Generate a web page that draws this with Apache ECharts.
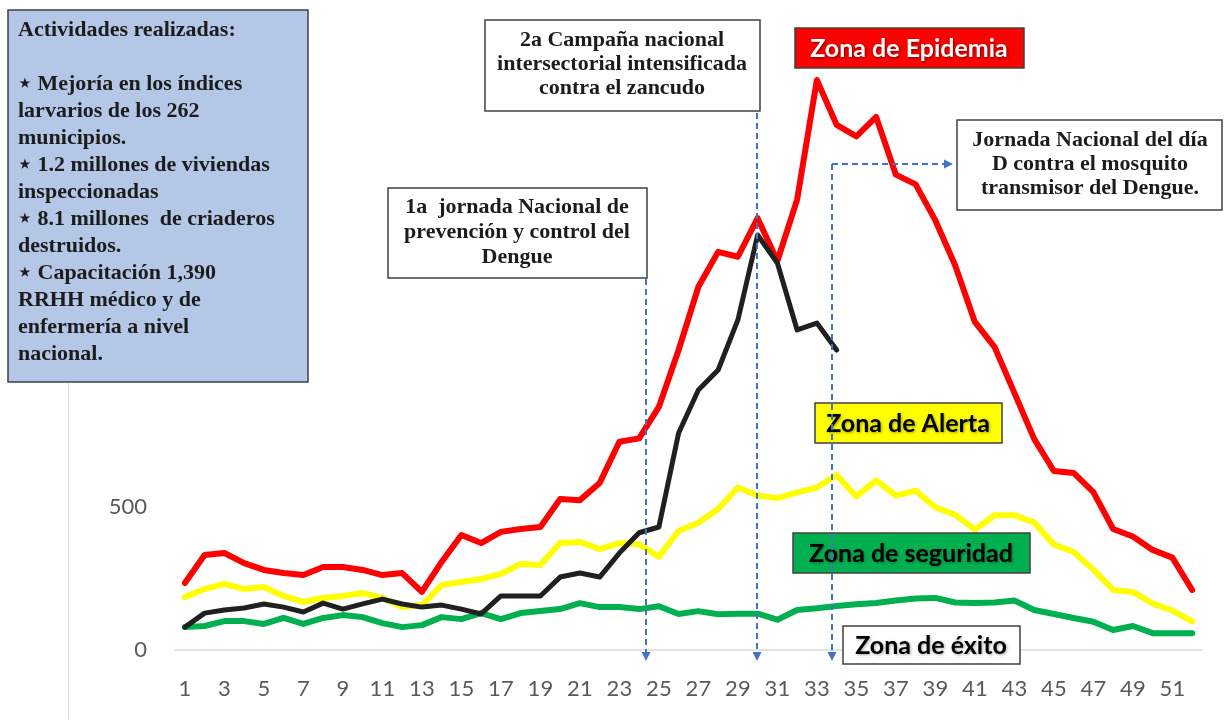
<!DOCTYPE html>
<html>
<head>
<meta charset="utf-8">
<script src="https://cdn.jsdelivr.net/npm/echarts@6/dist/echarts.min.js"></script>
<style>
html,body{margin:0;padding:0;background:#fff;}
#chart{width:1224px;height:720px;}
</style>
</head>
<body>
<div id="chart"></div>
<script>
const weeks = ['1','2','3','4','5','6','7','8','9','10','11','12','13','14','15','16','17','18','19','20','21','22','23','24','25','26','27','28','29','30','31','32','33','34','35','36','37','38','39','40','41','42','43','44','45','46','47','48','49','50','51','52'];

// Zona de Epidemia (red)
const epidemia = [234,332,339,304,280,269,262,290,290,280,262,269,203,308,402,374,413,423,430,528,524,584,728,740,850,1049,1270,1392,1375,1510,1360,1575,1993,1836,1796,1864,1662,1628,1502,1345,1147,1059,899,738,626,619,552,423,397,350,323,210];
// Zona de Alerta (yellow)
const alerta = [185,213,231,213,220,189,168,182,189,199,182,150,157,227,238,248,266,301,297,374,378,353,374,370,326,416,445,493,568,540,531,551,568,612,537,593,540,557,499,473,421,471,471,446,369,343,281,210,203,163,138,100];
// Zona de seguridad (green)
const seguridad = [80,84,101,101,91,112,91,112,122,115,94,80,87,115,108,129,108,129,136,143,164,150,150,143,153,126,136,125,127,127,106,140,146,154,160,164,173,180,182,166,164,166,173,140,126,112,99,70,84,59,59,59];
// Casos actuales (black), weeks 1-34
const actual = [80,129,140,147,161,150,133,164,143,161,178,161,150,157,143,126,189,189,189,255,269,255,339,410,430,759,909,979,1154,1451,1353,1119,1143,1049];

const yTicks = [0, 500, 1000, 1500, 2000];

const chart = echarts.init(document.getElementById('chart'));

const serif = '"Liberation Serif", "DejaVu Serif", serif';
const sans = 'Lato, "Open Sans", sans-serif';
const blue = '#4472C4';

function box(x, y, w, h, fill, stroke) {
  return { type: 'rect', z: 100, shape: { x: x, y: y, width: w, height: h },
    style: { fill: fill, stroke: stroke || '#404040', lineWidth: 1.5 } };
}
function txt(x, y, text, opts) {
  return { type: 'text', z: 101, style: Object.assign({ x: x, y: y, text: text }, opts) };
}
function zoneText(x, y, text, color, shadow) {
  return txt(x, y, text, { font: 'bold 25px ' + sans, fill: color, align: 'center', verticalAlign: 'middle',
    textShadowColor: shadow, textShadowBlur: 3, textShadowOffsetX: 1, textShadowOffsetY: 1 });
}
function dash(x1, y1, x2, y2) {
  return { type: 'line', z: 110, shape: { x1: x1, y1: y1, x2: x2, y2: y2 },
    style: { stroke: blue, lineWidth: 2, lineDash: [6, 4] } };
}
function arrowDown(x, y) {
  return { type: 'polygon', z: 110, shape: { points: [[x - 4.5, y - 9], [x + 4.5, y - 9], [x, y]] }, style: { fill: blue } };
}
function arrowRight(x, y) {
  return { type: 'polygon', z: 110, shape: { points: [[x - 9, y - 4.5], [x - 9, y + 4.5], [x, y]] }, style: { fill: blue } };
}

const activities = [
  'Actividades realizadas:',
  '',
  '\u22c6 Mejoría en los índices',
  'larvarios de los 262',
  'municipios.',
  '\u22c6 1.2 millones de viviendas',
  'inspeccionadas',
  '\u22c6 8.1 millones  de criaderos',
  'destruidos.',
  '\u22c6 Capacitación 1,390',
  'RRHH médico y de',
  'enfermería a nivel',
  'nacional.'
].join('\n');

const boxFont = 'bold 22px ' + serif;

const graphics = [
  { type: 'line', z: 1, shape: { x1: 68.5, y1: 383, x2: 68.5, y2: 720 }, style: { stroke: '#D9D9D9', lineWidth: 1 } },
  box(8, 10, 300, 372, '#B4C7E7', '#3b3f47'),
  txt(18, 17, activities, { font: 'bold 22px ' + serif, fill: '#1c1c1c', lineHeight: 27, align: 'left', verticalAlign: 'top' }),

  box(485, 20, 275, 91, '#ffffff'),
  txt(622, 28, '2a Campaña nacional\nintersectorial intensificada\ncontra el zancudo', { font: boxFont, fill: '#1c1c1c', lineHeight: 24, align: 'center', verticalAlign: 'top' }),

  box(388, 188, 259, 90, '#ffffff'),
  txt(517, 195, '1a  jornada Nacional de\nprevención y control del\nDengue', { font: boxFont, fill: '#1c1c1c', lineHeight: 25, align: 'center', verticalAlign: 'top' }),

  box(957, 120, 265, 90, '#ffffff'),
  txt(1090, 128, 'Jornada Nacional del día\nD contra el mosquito\ntransmisor del Dengue.', { font: boxFont, fill: '#1c1c1c', lineHeight: 24, align: 'center', verticalAlign: 'top' }),

  box(795, 28, 229, 40, '#FF0000'),
  zoneText(909, 49, 'Zona de Epidemia', '#ffffff', 'rgba(0,0,0,0.55)'),
  box(815, 403, 187, 40, '#FFFF00'),
  zoneText(908, 424, 'Zona de Alerta', '#000000', 'rgba(0,0,0,0.35)'),
  box(793, 533, 237, 40, '#00B050'),
  zoneText(911, 554, 'Zona de seguridad', '#000000', 'rgba(0,0,0,0.35)'),
  box(843, 626, 177, 38, '#ffffff'),
  zoneText(931, 646, 'Zona de éxito', '#000000', 'rgba(0,0,0,0.35)'),

  dash(646, 279, 646, 652), arrowDown(646, 661),
  dash(757, 113, 757, 652), arrowDown(757, 661),
  dash(832, 164, 832, 652), arrowDown(832, 661),
  dash(832, 164, 944, 164), arrowRight(953, 164)
];

function lineSeries(name, data, color, width, z) {
  return { name: name, type: 'line', data: data, z: z, symbol: 'none', smooth: false,
    lineStyle: { color: color, width: width, join: 'round', cap: 'round' }, itemStyle: { color: color }, animation: false };
}

chart.setOption({
  animation: false,
  grid: { left: 175, right: 22, top: 78, bottom: 70 },
  xAxis: {
    type: 'category', data: weeks, boundaryGap: true,
    axisLine: { lineStyle: { color: '#D9D9D9', width: 1.5 } },
    axisTick: { show: false },
    axisLabel: { interval: 1, color: '#595959', fontSize: 22, fontFamily: sans, margin: 28 }
  },
  yAxis: {
    type: 'value', min: yTicks[0], max: yTicks[yTicks.length - 1], interval: 500,
    axisLine: { show: false }, axisTick: { show: false }, splitLine: { show: false },
    axisLabel: { color: '#595959', fontSize: 22, fontFamily: sans, margin: 28,
      formatter: function (v) { return v <= 500 ? String(v) : ''; } }
  },
  series: [
    lineSeries('Zona de seguridad', seguridad, '#00B050', 6, 2),
    lineSeries('Zona de Alerta', alerta, '#FFFF00', 6, 3),
    lineSeries('Zona de Epidemia', epidemia, '#FF0000', 6, 4),
    lineSeries('Casos', actual, '#202020', 5, 5)
  ],
  graphic: graphics
});
</script>
</body>
</html>
